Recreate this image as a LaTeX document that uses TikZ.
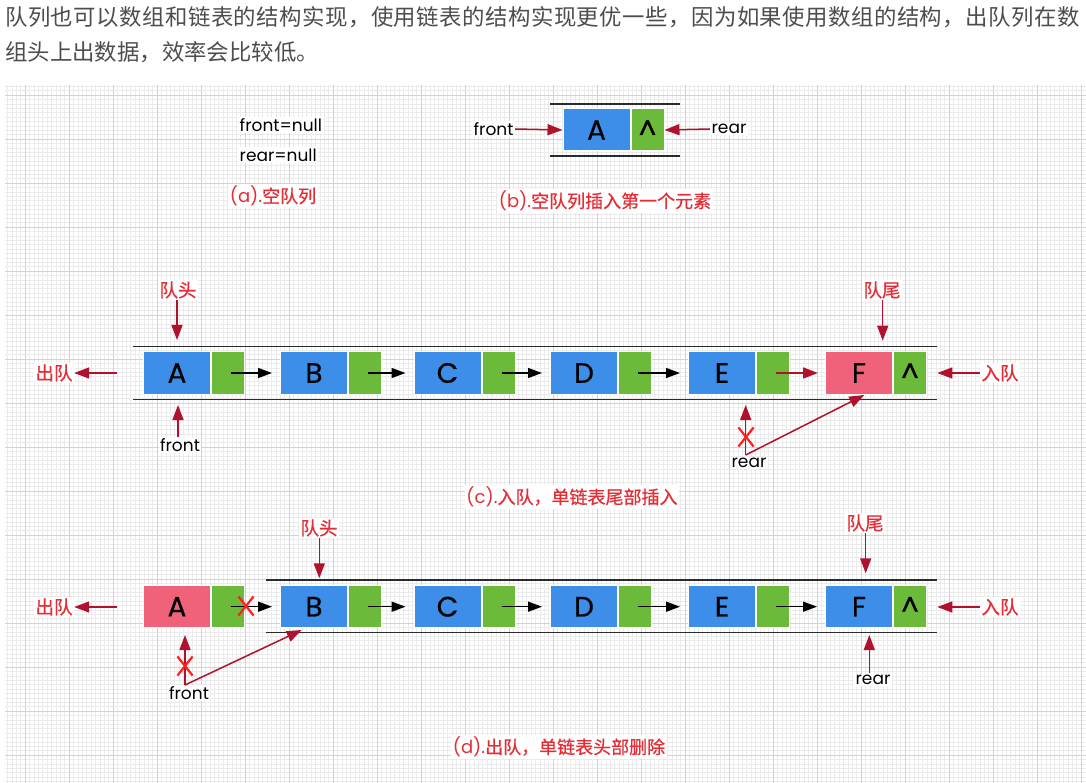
\documentclass[tikz,border=0pt]{standalone}
\usepackage{fontspec}
\setmainfont{Poppins}
\newfontfamily\cjk{Noto Sans CJK SC}
\newfontfamily\cjkred[FakeBold=0.7]{Noto Sans CJK SC}
\newfontfamily\cellfont[FakeBold=0.5]{Poppins}
\newfontfamily\cjkhead[LetterSpace=2.1]{Noto Sans CJK SC}
\usetikzlibrary{arrows.meta,shapes.misc}
\definecolor{qblue}{HTML}{3D8EE9}
\definecolor{qgreen}{HTML}{6BBA3A}
\definecolor{qpink}{HTML}{F0627A}
\definecolor{darr}{HTML}{B0112D}
\definecolor{tred}{HTML}{E52D35}
\definecolor{xred}{HTML}{FF1F1F}
\definecolor{gridmin}{HTML}{EBEBEB}
\definecolor{gridmaj}{HTML}{D2D2D2}
\definecolor{headgray}{HTML}{4D4D4D}
\definecolor{railc}{HTML}{2B2B2B}
\begin{document}
\begin{tikzpicture}[x=1pt,y=-1pt,
  cell/.style={rectangle, draw=white, line width=1pt, inner sep=0pt, minimum height=43pt, font={\cellfont\fontsize{28}{28}\selectfont}},
  bcell/.style={cell, fill=qblue, minimum width=67pt},
  pcell/.style={cell, fill=qpink, minimum width=67pt},
  gcell/.style={cell, fill=qgreen, minimum width=33pt},
  rail/.style={draw=railc, line width=1.5pt},
  redarrow/.style={draw=darr, line width=1.5pt, -{Triangle[length=15pt,width=11pt]}},
  blkarrow/.style={draw=black, line width=1.5pt, -{Triangle[length=14pt,width=10pt]}},
  lbl/.style={fill=white, inner sep=1.5pt, font=\fontsize{17}{17}\selectfont},
  rlbl/.style={fill=white, inner sep=1.5pt, text=tred, font={\cjkred\fontsize{18.5}{18.5}\selectfont}},
  capt/.style={fill=white, inner sep=1.5pt, text=tred, font=\fontsize{18}{18}\selectfont},
  xmark/.style={cross out, draw=xred, line width=2.2pt, minimum width=13pt, minimum height=17pt, inner sep=0pt},
  gmin/.style={draw=gridmin, line width=0.5pt},
  gmaj/.style={draw=gridmaj, line width=0.7pt}
]
\useasboundingbox (0,0) rectangle (1086,783);
\fill[white] (0,0) rectangle (1086,783);
% grid background
\draw[gmin] \foreach \i in {0,...,244} {({7.4+4.4*\i},85) -- ({7.4+4.4*\i},783)};
\draw[gmin] \foreach \i in {0,...,158} {(5,{86.2+4.4*\i}) -- (1086,{86.2+4.4*\i})};
\draw[gmaj] \foreach \i in {0,...,24} {({25+44*\i},85) -- ({25+44*\i},783)};
\draw[gmaj] \foreach \i in {0,...,15} {(5,{95+44*\i}) -- (1086,{95+44*\i})};

% header text
\node[anchor=west, inner sep=0pt, text=headgray, font={\cjkhead\fontsize{22.4}{22.4}\selectfont}] (h1) at (5,17) {队列也可以数组和链表的结构实现，使用链表的结构实现更优一些，因为如果使用数组的结构，出队列在数};
\node[anchor=west, inner sep=0pt, text=headgray, font={\cjk\fontsize{22.4}{22.4}\selectfont}] (h2) at (5,52) {组头上出数据，效率会比较低。};

% (a)
\node[lbl, anchor=west] (fnull) at (238,125) {front=null};
\node[lbl, anchor=west] (rnull) at (238,155) {rear=null};
\node[capt] (capA) at (273,196) {(a).{\cjkred 空队列}};

% (b)
\draw[rail] (550,104) -- (680,104);
\draw[rail] (550,156) -- (680,156);
\node[bcell, minimum height=42pt] (bA) at (596.5,130) {A};
\node[gcell, minimum height=42pt] (bAg) at (647.5,130) {\^{}};
\node[lbl] (bFront) at (493.5,129) {front};
\node[lbl] (bRear) at (729,129) {rear};
\draw[redarrow] (bFront.east) -- (bA.west);
\draw[redarrow] (bRear.west) -- (bAg.east);
\node[capt] (capB) at (605,201) {(b).{\cjkred 空队列插入第一个元素}};

% (c)
\draw[rail] (133,346.7) -- (937,346.7);
\draw[rail] (133,399.3) -- (937,399.3);
\node[bcell] (cA) at (177,373) {A};
\node[gcell] (cAg) at (228,373) {};
\node[bcell] (cB) at (314,373) {B};
\node[gcell] (cBg) at (365,373) {};
\node[bcell] (cC) at (447.5,373) {C};
\node[gcell] (cCg) at (498.5,373) {};
\node[bcell] (cD) at (584,373) {D};
\node[gcell] (cDg) at (635,373) {};
\node[bcell] (cE) at (722,373) {E};
\node[gcell] (cEg) at (773,373) {};
\node[pcell] (cF) at (859,373) {F};
\node[gcell] (cFg) at (910,373) {\^{}};
\draw[blkarrow] ([xshift=3pt]cAg.center) -- ([xshift=-8pt]cB.west);
\draw[blkarrow] ([xshift=3pt]cBg.center) -- ([xshift=-8pt]cC.west);
\draw[blkarrow] ([xshift=3pt]cCg.center) -- ([xshift=-8pt]cD.west);
\draw[blkarrow] ([xshift=3pt]cDg.center) -- ([xshift=-8pt]cE.west);
\draw[redarrow] ([xshift=3pt]cEg.center) -- ([xshift=-7pt]cF.west);

\node[rlbl] (cHead) at (178,290) {队头};
\coordinate (cHeadTip) at (177,340);
\draw[redarrow] (cHead.south -| cHeadTip) -- (cHeadTip);
\node[rlbl] (cTail) at (882,290) {队尾};
\coordinate (cTailTip) at (882.7,340.7);
\draw[redarrow] (cTail.south -| cTailTip) -- (cTailTip);
\node[rlbl] (cOut) at (54,373) {出队};
\coordinate (cOutS) at (116.7,373);
\draw[redarrow] (cOutS) -- (cOut.east);
\node[rlbl] (cIn) at (1000,373) {入队};
\coordinate (cInTip) at (937.3,373);
\draw[redarrow] (cIn.west) -- (cInTip);
\node[lbl] (cFront) at (180,445) {front};
\coordinate (cFrontTip) at (178,405);
\draw[redarrow] (cFront.north -| cFrontTip) -- (cFrontTip);
\node[lbl] (cRear) at (749,463) {rear};
\coordinate (cRearS) at (745.7,455);
\coordinate (cRearTip1) at (745.7,405);
\coordinate (cRearTip2) at (864.3,395);
\draw[redarrow] (cRearS) -- (cRearTip1);
\draw[redarrow] (cRearS) -- (cRearTip2);
\node[xmark] (cX) at (746,437) {};
\node[capt] (capC) at (572,497) {(c).{\cjkred 入队，单链表尾部插入}};

% (d)
\draw[rail] (265.7,580) -- (937.3,580);
\draw[rail] (265.7,632.3) -- (937.3,632.3);
\node[pcell, minimum height=42pt] (dA) at (177,606.7) {A};
\node[gcell, minimum height=42pt] (dAg) at (228,606.7) {};
\node[bcell, minimum height=42pt] (dB) at (314,606.7) {B};
\node[gcell, minimum height=42pt] (dBg) at (365,606.7) {};
\node[bcell, minimum height=42pt] (dC) at (447.5,606.7) {C};
\node[gcell, minimum height=42pt] (dCg) at (498.5,606.7) {};
\node[bcell, minimum height=42pt] (dD) at (584,606.7) {D};
\node[gcell, minimum height=42pt] (dDg) at (635,606.7) {};
\node[bcell, minimum height=42pt] (dE) at (722,606.7) {E};
\node[gcell, minimum height=42pt] (dEg) at (773,606.7) {};
\node[bcell, minimum height=42pt] (dF) at (859,606.7) {F};
\node[gcell, minimum height=42pt] (dFg) at (910,606.7) {\^{}};
\draw[blkarrow] ([xshift=3pt]dAg.center) -- ([xshift=-8pt]dB.west);
\draw[blkarrow] ([xshift=3pt]dBg.center) -- ([xshift=-8pt]dC.west);
\draw[blkarrow] ([xshift=3pt]dCg.center) -- ([xshift=-8pt]dD.west);
\draw[blkarrow] ([xshift=3pt]dDg.center) -- ([xshift=-8pt]dE.west);
\draw[blkarrow] ([xshift=3pt]dEg.center) -- ([xshift=-8pt]dF.west);
\node[xmark] (dX1) at (246,606) {};

\node[rlbl] (dHead) at (319,528) {队头};
\coordinate (dHeadTip) at (319.3,578.3);
\draw[redarrow] (dHead.south -| dHeadTip) -- (dHeadTip);
\node[rlbl] (dTail) at (865,523) {队尾};
\coordinate (dTailTip) at (865.7,573.3);
\draw[redarrow] (dTail.south -| dTailTip) -- (dTailTip);
\node[rlbl] (dOut) at (54,607) {出队};
\coordinate (dOutS) at (116.7,607);
\draw[redarrow] (dOutS) -- (dOut.east);
\node[rlbl] (dIn) at (1000,607) {入队};
\coordinate (dInTip) at (937.3,607);
\draw[redarrow] (dIn.west) -- (dInTip);
\node[lbl] (dFront) at (189,693) {front};
\coordinate (dFrontS) at (185,685);
\coordinate (dFrontTip1) at (185,635);
\coordinate (dFrontTip2) at (301.7,630);
\draw[redarrow] (dFrontS) -- (dFrontTip1);
\draw[redarrow] (dFrontS) -- (dFrontTip2);
\node[xmark] (dX2) at (185,666) {};
\node[lbl] (dRear) at (873,680) {rear};
\coordinate (dRearTip) at (869.3,635);
\draw[redarrow] (dRear.north -| dRearTip) -- (dRearTip);
\node[capt] (capD) at (559,747) {(d).{\cjkred 出队，单链表头部删除}};
\end{tikzpicture}
\end{document}
